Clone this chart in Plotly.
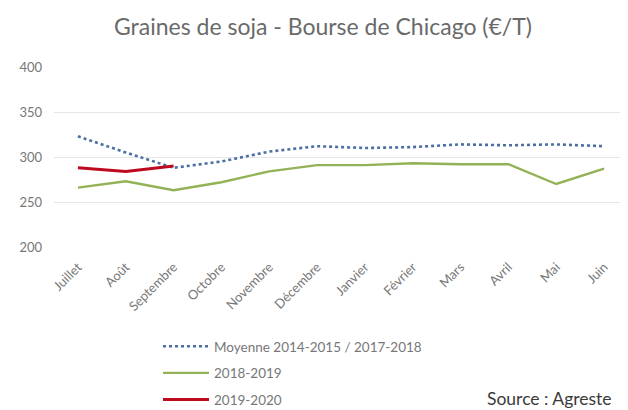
import plotly.graph_objects as go

months = ["Juillet", "Août", "Septembre", "Octobre", "Novembre", "Décembre",
          "Janvier", "Février", "Mars", "Avril", "Mai", "Juin"]
moyenne = [323, 305, 288, 295, 306, 312, 310, 311, 314, 313, 314, 312]
s2018 = [266, 273, 263, 272, 284, 291, 291, 293, 292, 292, 270, 287]
s2019 = [288, 284, 290]
y_ticks = [200, 250, 300, 350, 400]

FONT = "Lato, 'Open Sans', sans-serif"
TXT = "#777777"

fig = go.Figure()
fig.add_trace(go.Scatter(x=months, y=moyenne, mode="lines", name="Moyenne 2014-2015 / 2017-2018",
                         line=dict(color="#4C6FA3", width=2.6, dash="dot"), legendgroup="a"))
fig.add_trace(go.Scatter(x=months, y=s2018, mode="lines", name="2018-2019",
                         line=dict(color="#93B255", width=2.4), legendgroup="b"))
fig.add_trace(go.Scatter(x=months[:len(s2019)], y=s2019, mode="lines", name="2019-2020",
                         line=dict(color="#BE0A1E", width=3), legendgroup="c"))

# the page body has an 8px default margin, so the figure is drawn 8px smaller and positions shifted
PL, PT, PB, W, H = 46, 59, 163, 620, 402
PW, PH = W - PL, H - PT - PB

fig.update_layout(
    width=W, height=H,
    margin=dict(l=PL, r=0, t=PT, b=PB, autoexpand=False),
    paper_bgcolor="white", plot_bgcolor="white",
    font=dict(family=FONT, color=TXT, size=13),
    title=dict(text="Graines de soja - Bourse de Chicago (€/T)", xref="container", x=0.508,
               xanchor="center", yref="container", y=1 - 19 / H, yanchor="middle",
               font=dict(size=23, color="#6A6A6A", family=FONT)),
    xaxis=dict(type="category", tickangle=-45, showgrid=False, showline=False, ticks="",
               tickfont=dict(size=13, color=TXT), range=[-0.5, 11.5], ticklabelstandoff=9),
    yaxis=dict(range=[200, 400], tickvals=y_ticks, showgrid=True, gridcolor="#E6E6E6",
               gridwidth=1.2, zeroline=False, showline=False, ticks="",
               tickfont=dict(size=13, color=TXT), ticklabelstandoff=11),
    showlegend=True,
    legend=dict(orientation="v", xref="paper", x=(150 - PL) / PW, xanchor="left",
                yref="paper", y=-(323 - (H - PB)) / PH, yanchor="top", itemwidth=46,
                font=dict(size=13.5, color=TXT), tracegroupgap=6, bgcolor="rgba(0,0,0,0)"),
    annotations=[dict(text="Source : Agreste", xref="paper", yref="paper",
                      x=(606 - PL) / PW, y=-(390 - (H - PB)) / PH,
                      xanchor="right", yanchor="middle", showarrow=False,
                      font=dict(size=17.5, color="#3A3A3A", family=FONT))],
)
fig.write_html("out.html")
